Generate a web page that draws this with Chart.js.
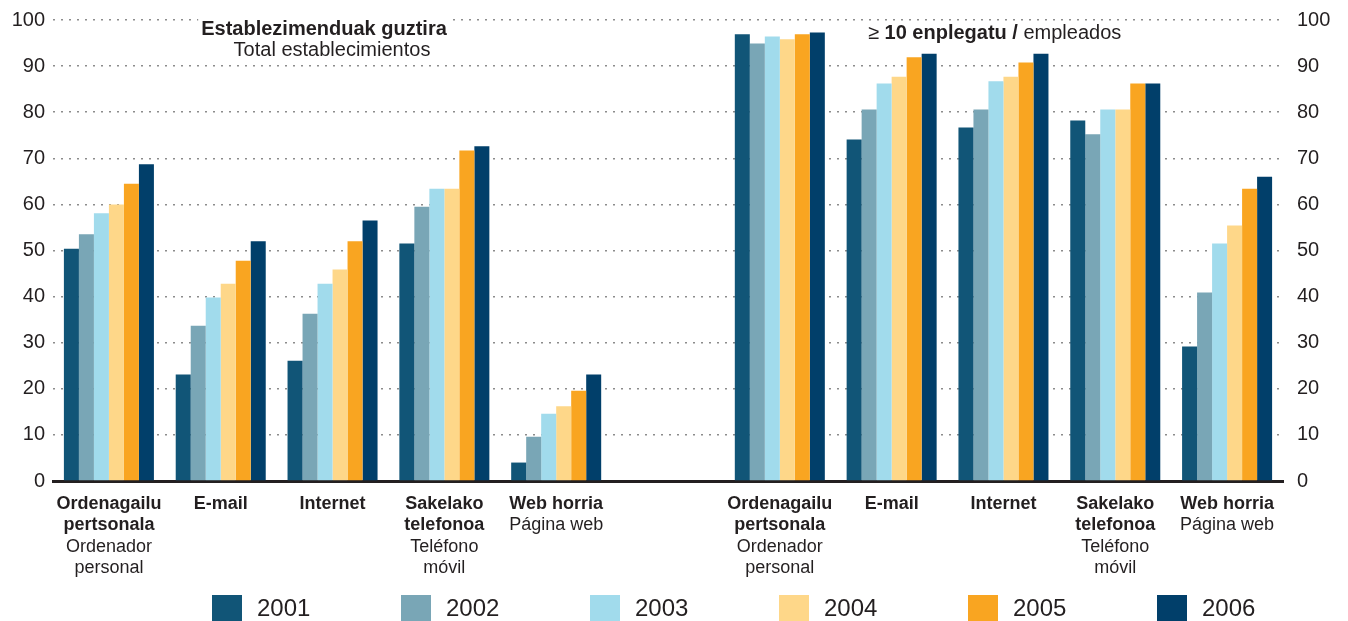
<!DOCTYPE html>
<html>
<head>
<meta charset="utf-8">
<script src="https://cdn.jsdelivr.net/npm/chart.js@4"></script>
<style>
  html, body { margin: 0; padding: 0; background: #fff; }
  canvas { display: block; }
</style>
</head>
<body>
<canvas id="chart" width="1348" height="621"></canvas>
<script>
// kategoriak: ezkerrean establezimendu guztiak, eskuinean >= 10 enplegatu (erdian hutsunea)
const categories = ['Ordenagailu pertsonala', 'E-mail', 'Internet', 'Sakelako telefonoa', 'Web horria', '',
                    'Ordenagailu pertsonala', 'E-mail', 'Internet', 'Sakelako telefonoa', 'Web horria'];
const boldLines = [['Ordenagailu', 'pertsonala'], ['E-mail'], ['Internet'], ['Sakelako', 'telefonoa'], ['Web horria'], [],
                   ['Ordenagailu', 'pertsonala'], ['E-mail'], ['Internet'], ['Sakelako', 'telefonoa'], ['Web horria']];
const normalLines = [['Ordenador', 'personal'], [], [], ['Teléfono', 'móvil'], ['Página web'], [],
                     ['Ordenador', 'personal'], [], [], ['Teléfono', 'móvil'], ['Página web']];

const years = ['2001', '2002', '2003', '2004', '2005', '2006'];
const v2001 = [50.4, 23.1, 26.1, 51.5, 4.0, null, 96.9, 74.1, 76.7, 78.2, 29.2];
const v2002 = [53.5, 33.7, 36.3, 59.5, 9.6, null, 94.9, 80.6, 80.6, 75.2, 40.9];
const v2003 = [58.1, 39.8, 42.8, 63.4, 14.6, null, 96.4, 86.2, 86.7, 80.6, 51.5];
const v2004 = [60.0, 42.8, 45.9, 63.4, 16.2, null, 95.8, 87.7, 87.7, 80.6, 55.4];
const v2005 = [64.5, 47.8, 52.0, 71.7, 19.6, null, 96.9, 91.9, 90.8, 86.2, 63.4];
const v2006 = [68.7, 52.0, 56.5, 72.6, 23.1, null, 97.3, 92.7, 92.7, 86.2, 66.0];
const yTicks = [0, 10, 20, 30, 40, 50, 60, 70, 80, 90, 100];

const seriesValues = [v2001, v2002, v2003, v2004, v2005, v2006];
const colors = ['#115577', '#79a6b6', '#a1dbec', '#fed789', '#f9a521', '#013f6a'];

const FONT = '"Liberation Sans", Arial, sans-serif';
const TEXT = '#231f20';

Chart.defaults.font.family = FONT;

// textu-geruza: kategoria-etiketak, izenburuak eta legenda
const annotations = {
    id: 'annotations',
    afterDraw: (chart) => {
        const ctx = chart.ctx;
        const xScale = chart.scales.x;

        ctx.save();
        ctx.fillStyle = TEXT;
        ctx.textAlign = 'center';
        ctx.textBaseline = 'middle';

        categories.forEach((c, i) => {
            const cx = xScale.getPixelForValue(i);
            let y = 504;
            ctx.font = 'bold 18px ' + FONT;
            boldLines[i].forEach((t) => { ctx.fillText(t, cx, y); y += 21.5; });
            ctx.font = '18px ' + FONT;
            normalLines[i].forEach((t) => { ctx.fillText(t, cx, y); y += 21.5; });
        });

        // izenburuak: lehenik atzealde zuria, gero testua
        const writeLine = (parts, x, y, align) => {
            const widths = parts.map((p) => { ctx.font = p[1] + '20px ' + FONT; return ctx.measureText(p[0]).width; });
            const total = widths.reduce((a, b) => a + b, 0);
            let left = align === 'center' ? x - total / 2 : x;
            ctx.fillStyle = '#fff';
            ctx.fillRect(left - 3, y - 11, total + 6, 22);
            ctx.fillStyle = TEXT;
            ctx.textAlign = 'left';
            parts.forEach((p, k) => {
                ctx.font = p[1] + '20px ' + FONT;
                ctx.fillText(p[0], left, y);
                left += widths[k];
            });
        };
        writeLine([['Establezimenduak guztira', 'bold ']], 324, 29, 'center');
        writeLine([['Total establecimientos', '']], 332, 50, 'center');
        writeLine([['\u2265 ', ''], ['10 enplegatu /', 'bold '], [' empleados', '']], 868, 33, 'left');

        // legenda
        chart.data.datasets.forEach((ds, i) => {
            const lx = 212 + i * 189;
            ctx.fillStyle = ds.backgroundColor;
            ctx.fillRect(lx, 595, 30, 26);
            ctx.fillStyle = TEXT;
            ctx.font = '24px ' + FONT;
            ctx.textAlign = 'left';
            ctx.fillText(ds.label, lx + 45, 609);
        });
        ctx.restore();
    }
};

new Chart(document.getElementById('chart'), {
    type: 'bar',
    data: {
        labels: categories,
        datasets: years.map((yr, i) => ({
            label: yr,
            data: seriesValues[i],
            backgroundColor: colors[i],
            borderWidth: 0,
            barPercentage: 1,
            categoryPercentage: 0.805
        }))
    },
    options: {
        responsive: false,
        animation: false,
        devicePixelRatio: 1,
        plugins: {
            legend: { display: false },
            tooltip: { enabled: false }
        },
        layout: { padding: { top: 20, left: 0, right: 0, bottom: 0 } },
        scales: {
            x: {
                grid: { display: false, drawTicks: false },
                ticks: { display: false },
                border: { color: TEXT, width: 3 },
                afterFit: (s) => { s.height = 140; s.paddingLeft = 0; s.paddingRight = 0; }
            },
            y: {
                position: 'left',
                min: 0,
                max: 100,
                afterBuildTicks: (s) => { s.ticks = yTicks.map((v) => ({ value: v })); },
                ticks: { padding: 8, color: TEXT, font: { size: 20 } },
                grid: { color: '#8c8c8c', lineWidth: 1.5, drawTicks: false },
                border: { display: false, dash: [2, 6] },
                afterFit: (s) => { s.width = 53; s.paddingTop = 0; s.paddingBottom = 0; }
            },
            y2: {
                position: 'right',
                min: 0,
                max: 100,
                afterBuildTicks: (s) => { s.ticks = yTicks.map((v) => ({ value: v })); },
                ticks: { padding: 14, color: TEXT, font: { size: 20 } },
                grid: { display: false, drawTicks: false },
                border: { display: false },
                afterFit: (s) => { s.width = 65; s.paddingTop = 0; s.paddingBottom = 0; }
            }
        }
    },
    plugins: [annotations]
});
</script>
</body>
</html>
